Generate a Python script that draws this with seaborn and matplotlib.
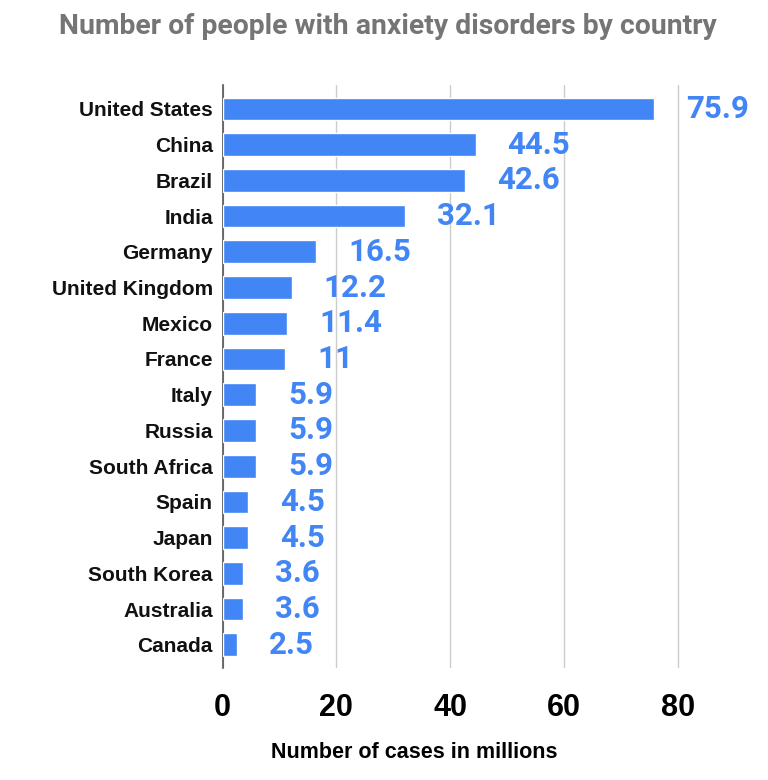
import matplotlib
matplotlib.use("Agg")
import matplotlib.pyplot as plt
import seaborn as sns
import pandas as pd

countries = ["United States", "China", "Brazil", "India", "Germany", "United Kingdom",
             "Mexico", "France", "Italy", "Russia", "South Africa", "Spain", "Japan",
             "South Korea", "Australia", "Canada"]
cases = [75.9, 44.5, 42.6, 32.1, 16.5, 12.2, 11.4, 11, 5.9, 5.9, 5.9, 4.5, 4.5, 3.6, 3.6, 2.5]
value_labels = ["75.9", "44.5", "42.6", "32.1", "16.5", "12.2", "11.4", "11", "5.9", "5.9",
                "5.9", "4.5", "4.5", "3.6", "3.6", "2.5"]
xticks = [0, 20, 40, 60, 80]

df = pd.DataFrame({"country": countries, "cases": cases})

sns.set_style("white")
plt.rcParams["font.family"] = ["Liberation Sans", "DejaVu Sans"]

W, H = 768, 780
fig = plt.figure(figsize=(W / 100, H / 100), dpi=100)
ax_left, ax_right = 222.5, 735
ax_top, ax_bot = 85, 668
ax = fig.add_axes([ax_left / W, 1 - ax_bot / H, (ax_right - ax_left) / W, (ax_bot - ax_top) / H])

sns.barplot(data=df, x="cases", y="country", color="#4285F4", saturation=1,
            width=0.635, ax=ax, zorder=3)

ax.set_xlim(0, (ax_right - ax_left) / 5.69)
ax.set_ylim(15.65, -0.67)
ax.set_xticks(xticks)
ax.set_xticklabels([str(t) for t in xticks], fontsize=22, fontweight="bold", color="black")
ax.tick_params(axis="x", length=0, pad=18)
ax.tick_params(axis="y", length=0, pad=7)
for lbl in ax.get_yticklabels():
    lbl.set_fontsize(15)
    lbl.set_fontweight("bold")
    lbl.set_color("#111111")
ax.xaxis.grid(True, color="#cccccc", linewidth=1, zorder=0)
for s in ["top", "right", "bottom"]:
    ax.spines[s].set_visible(False)
ax.spines["left"].set_color("#555555")
ax.spines["left"].set_linewidth(1.2)
ax.set_ylabel("")
ax.set_xlabel("")

for i, (v, t) in enumerate(zip(cases, value_labels)):
    ax.annotate(t, xy=(v, i), xytext=(23, 0), textcoords="offset points",
                va="center", ha="left", fontsize=22.5, fontweight="bold",
                color="#4285F4", family=["Roboto", "DejaVu Sans"], zorder=4)

fig.text(414 / W, 1 - 752 / H, "Number of cases in millions",
         ha="center", va="center", fontsize=15.5, fontweight="bold", color="black")

fig.text(388 / W, 1 - 26 / H, "Number of people with anxiety disorders by country",
         ha="center", va="center", fontsize=20.4, fontweight="bold", color="#757575",
         family=["Roboto", "DejaVu Sans"])

fig.savefig("out.png", dpi=100)
